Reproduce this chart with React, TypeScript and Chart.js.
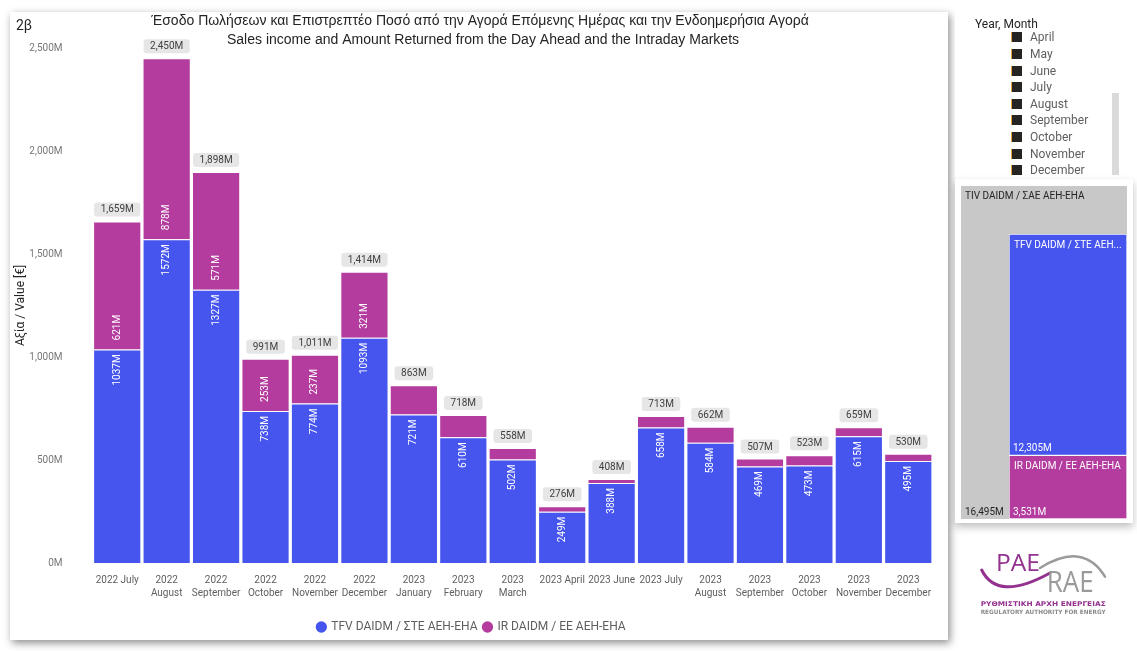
import React, { useEffect, useRef } from "react";
import { Chart, registerables } from "chart.js";

Chart.register(...registerables);

// ---------- data ----------
const categories: string[][] = [
  ["2022 July"],
  ["2022", "August"],
  ["2022", "September"],
  ["2022", "October"],
  ["2022", "November"],
  ["2022", "December"],
  ["2023", "January"],
  ["2023", "February"],
  ["2023", "March"],
  ["2023 April"],
  ["2023 June"],
  ["2023 July"],
  ["2023", "August"],
  ["2023", "September"],
  ["2023", "October"],
  ["2023", "November"],
  ["2023", "December"],
];
const tfvValues = [1037, 1572, 1327, 738, 774, 1093, 721, 610, 502, 249, 388, 658, 584, 469, 473, 615, 495];
const irValues = [621, 878, 571, 253, 237, 321, 142, 108, 56, 27, 20, 55, 78, 38, 50, 44, 35];
const totalValues = [1659, 2450, 1898, 991, 1011, 1414, 863, 718, 558, 276, 408, 713, 662, 507, 523, 659, 530];
const yTickValues = [0, 500, 1000, 1500, 2000, 2500];

const seriesNames = ["TFV DAIDM / ΣΤΕ ΑΕΗ-ΕΗΑ", "IR DAIDM / ΕΕ ΑΕΗ-ΕΗΑ"];
const titleLines = [
  "Έσοδο Πωλήσεων και Επιστρεπτέο Ποσό από την Αγορά Επόμενης Ημέρας και την Ενδοημερήσια Αγορά",
  "Sales income and Amount Returned from the Day Ahead and the Intraday Markets",
];
const pageTag = "2β";
const yAxisTitle = "Αξία / Value [€]";

const treemapParentName = "TIV DAIDM / ΣΑΕ ΑΕΗ-ΕΗΑ";
const treemapParentValue = 16495;
const treemapChildNames = ["TFV DAIDM / ΣΤΕ ΑΕΗ-ΕΗΑ", "IR DAIDM / ΕΕ ΑΕΗ-ΕΗΑ"];
const treemapChildValues = [12305, 3531];

const slicerTitle = "Year, Month";
const slicerMonths = ["April", "May", "June", "July", "August", "September", "October", "November", "December"];

// ---------- styles ----------
const BLUE = "#4655EE";
const PURPLE = "#B33C9E";
const FONT = "Roboto, 'Liberation Sans', sans-serif";

const fmtComma = (v: number) => v.toLocaleString("en-US") + "M";

function roundRect(ctx: CanvasRenderingContext2D, x: number, y: number, w: number, h: number, r: number) {
  ctx.beginPath();
  ctx.moveTo(x + r, y);
  ctx.lineTo(x + w - r, y);
  ctx.quadraticCurveTo(x + w, y, x + w, y + r);
  ctx.lineTo(x + w, y + h - r);
  ctx.quadraticCurveTo(x + w, y + h, x + w - r, y + h);
  ctx.lineTo(x + r, y + h);
  ctx.quadraticCurveTo(x, y + h, x, y + h - r);
  ctx.lineTo(x, y + r);
  ctx.quadraticCurveTo(x, y, x + r, y);
  ctx.closePath();
}

const titlePlugin = {
  id: "titleLines",
  afterDraw(chart: any) {
    const ctx = chart.ctx as CanvasRenderingContext2D;
    ctx.save();
    ctx.font = "14px 'Liberation Sans', Arial, sans-serif";
    ctx.fillStyle = "#252423";
    ctx.textAlign = "center";
    ctx.textBaseline = "alphabetic";
    ctx.fillText(titleLines[0], 470, 12.5);
    ctx.fillText(titleLines[1], 473, 31.5);
    ctx.restore();
  },
};

const barLabelPlugin = {
  id: "barLabels",
  afterDatasetsDraw(chart: any) {
    const ctx = chart.ctx as CanvasRenderingContext2D;
    const m0 = chart.getDatasetMeta(0);
    const m1 = chart.getDatasetMeta(1);
    ctx.save();
    ctx.font = `10px ${FONT}`;
    ctx.textBaseline = "middle";
    m0.data.forEach((bar: any, i: number) => {
      const p = bar.getProps(["x", "y", "base"], true);
      if (p.base - p.y > 40) {
        ctx.save();
        ctx.translate(p.x, p.y + 5);
        ctx.rotate(-Math.PI / 2);
        ctx.textAlign = "right";
        ctx.fillStyle = "#ffffff";
        ctx.fillText(tfvValues[i] + "M", 0, 0);
        ctx.restore();
      }
    });
    m1.data.forEach((bar: any, i: number) => {
      const p = bar.getProps(["x", "y", "base"], true);
      if (p.base - p.y > 40) {
        ctx.save();
        ctx.translate(p.x, p.base - 9);
        ctx.rotate(-Math.PI / 2);
        ctx.textAlign = "left";
        ctx.fillStyle = "#ffffff";
        ctx.fillText(irValues[i] + "M", 0, 0);
        ctx.restore();
      }
      // total label box
      const txt = fmtComma(totalValues[i]);
      const w = ctx.measureText(txt).width + 13;
      const h = 14;
      const bx = p.x - w / 2;
      const by = p.y - 5 - h;
      roundRect(ctx, bx, by, w, h, 3);
      ctx.fillStyle = "#E6E6E6";
      ctx.fill();
      ctx.fillStyle = "#404040";
      ctx.textAlign = "center";
      ctx.fillText(txt, p.x, by + h / 2 + 0.5);
    });
    ctx.restore();
  },
};

function truncate(ctx: CanvasRenderingContext2D, text: string, maxW: number) {
  if (ctx.measureText(text).width <= maxW) return text;
  let t = text;
  while (t.length > 0 && ctx.measureText(t + "...").width > maxW) t = t.slice(0, -1);
  return t + "...";
}

const treemapPlugin = {
  id: "treemapCells",
  beforeDraw(chart: any) {
    const ctx = chart.ctx as CanvasRenderingContext2D;
    ctx.save();
    ctx.fillStyle = "#C8C8C8";
    ctx.fillRect(0, 0, chart.width, chart.height);
    ctx.restore();
  },
  afterDatasetsDraw(chart: any) {
    const ctx = chart.ctx as CanvasRenderingContext2D;
    ctx.save();
    ctx.font = `10px ${FONT}`;
    ctx.textBaseline = "alphabetic";
    ctx.textAlign = "left";
    ctx.fillStyle = "#252423";
    ctx.fillText(treemapParentName, 4, 13);
    ctx.fillText(fmtComma(treemapParentValue), 4, chart.height - 4);
    // datasets: 0 = IR (bottom), 1 = TFV (top)
    const order = [1, 0];
    order.forEach((di) => {
      const bar: any = chart.getDatasetMeta(di).data[0];
      const p = bar.getProps(["x", "y", "base", "width"], true);
      const left = p.x - p.width / 2;
      const childIdx = di === 1 ? 0 : 1;
      ctx.fillStyle = "#ffffff";
      ctx.fillText(truncate(ctx, treemapChildNames[childIdx], p.width - 8), left + 5, p.y + 14);
      ctx.fillText(fmtComma(treemapChildValues[childIdx]), left + 4, p.base - 4);
    });
    ctx.restore();
  },
};

export default function App() {
  const mainRef = useRef<HTMLCanvasElement | null>(null);
  const treeRef = useRef<HTMLCanvasElement | null>(null);

  useEffect(() => {
    document.body.style.margin = "0";
    const main = new Chart(mainRef.current as HTMLCanvasElement, {
      type: "bar",
      data: {
        labels: categories as any,
        datasets: [
          {
            label: seriesNames[0],
            data: tfvValues,
            backgroundColor: BLUE,
            borderColor: "rgba(255,255,255,0.35)",
            borderWidth: 1,
            borderSkipped: "bottom",
            categoryPercentage: 1,
            barPercentage: 0.975,
          },
          {
            label: seriesNames[1],
            data: irValues,
            backgroundColor: PURPLE,
            borderColor: "rgba(255,255,255,0.35)",
            borderWidth: 1,
            borderSkipped: "bottom",
            categoryPercentage: 1,
            barPercentage: 0.975,
          },
        ],
      },
      options: {
        animation: false,
        responsive: false,
        layout: { padding: { top: 34, left: 0, right: 15, bottom: -3 } },
        plugins: {
          tooltip: { enabled: false },
          title: { display: false },
          legend: {
            position: "bottom",
            labels: {
              usePointStyle: true,
              pointStyle: "circle",
              boxWidth: 8,
              boxHeight: 8,
              padding: 6,
              color: "#605E5C",
              font: { size: 12, family: FONT },
              generateLabels: (chart: any) =>
                Chart.defaults.plugins.legend.labels
                  .generateLabels(chart)
                  .map((l: any) => ({ ...l, strokeStyle: l.fillStyle, lineWidth: 0 })),
            },
          },
        },
        scales: {
          x: {
            stacked: true,
            grid: { display: false, drawTicks: false },
            border: { display: false },
            ticks: {
              color: "#605E5C",
              font: { size: 10, family: FONT, lineHeight: 1.3 },
              maxRotation: 0,
              minRotation: 0,
              autoSkip: false,
              padding: 11,
            },
            afterFit: (s: any) => {
              s.height = 52;
            },
          },
          y: {
            stacked: true,
            min: 0,
            max: 2500,
            grid: { display: false, drawTicks: false },
            border: { display: false },
            afterBuildTicks: (s: any) => {
              s.ticks = yTickValues.map((v) => ({ value: v }));
            },
            ticks: {
              color: "#777777",
              font: { size: 10, family: FONT },
              padding: 30,
              callback: (v: any) => fmtComma(Number(v)),
            },
            title: {
              display: true,
              text: yAxisTitle,
              color: "#252423",
              font: { size: 12, family: FONT },
              padding: { top: 4, bottom: 0 },
            },
            afterFit: (s: any) => {
              s.width = 82.5;
            },
          },
        },
      } as any,
      plugins: [titlePlugin, barLabelPlugin],
    });

    const childSum = treemapChildValues[0] + treemapChildValues[1];
    const tree = new Chart(treeRef.current as HTMLCanvasElement, {
      type: "bar",
      data: {
        labels: [treemapParentName],
        datasets: [
          {
            label: treemapChildNames[1],
            data: [treemapChildValues[1]],
            backgroundColor: PURPLE,
            borderColor: "rgba(255,255,255,0.85)",
            borderWidth: 1,
            borderSkipped: false,
            categoryPercentage: 1,
            barPercentage: 1,
          },
          {
            label: treemapChildNames[0],
            data: [treemapChildValues[0]],
            backgroundColor: BLUE,
            borderColor: "rgba(255,255,255,0.85)",
            borderWidth: 1,
            borderSkipped: false,
            categoryPercentage: 1,
            barPercentage: 1,
          },
        ],
      },
      options: {
        animation: false,
        responsive: false,
        layout: { padding: { left: 48, top: 48, right: 0, bottom: 0 } },
        plugins: { legend: { display: false }, tooltip: { enabled: false } },
        scales: {
          x: { display: false, stacked: true },
          y: { display: false, stacked: true, min: 0, max: childSum },
        },
      } as any,
      plugins: [treemapPlugin],
    });

    return () => {
      main.destroy();
      tree.destroy();
    };
  }, []);

  return (
    <div
      style={{
        position: "fixed",
        left: 0,
        top: 0,
        width: 1137,
        height: 651,
        background: "#ffffff",
        overflow: "hidden",
        fontFamily: FONT,
      }}
    >
      {/* main chart panel */}
      <div
        style={{
          position: "absolute",
          left: 10,
          top: 12,
          width: 938,
          height: 628,
          background: "#ffffff",
          boxShadow: "2px 3px 8px rgba(0,0,0,0.45)",
        }}
      >
        <canvas ref={mainRef} width={938} height={628} style={{ display: "block" }} />
        <div
          style={{
            position: "absolute",
            left: 6,
            top: 5,
            fontSize: 14,
            lineHeight: "16px",
            color: "#252423",
          }}
        >
          {pageTag}
        </div>
      </div>

      {/* slicer */}
      <div style={{ position: "absolute", left: 955, top: 12, width: 182, height: 166, background: "#fff" }}>
        <div
          style={{
            position: "absolute",
            left: 20,
            top: 4,
            fontSize: 12,
            lineHeight: "16px",
            color: "#252423",
          }}
        >
          {slicerTitle}
        </div>
        {slicerMonths.map((m, i) => (
          <div
            key={m}
            style={{
              position: "absolute",
              left: 56,
              top: 17.4 + i * 16.6,
              height: 16,
              display: "flex",
              alignItems: "center",
            }}
          >
            <div
              style={{
                width: 10,
                height: 10,
                background: "#252423",
                borderLeft: "1px solid #E8A33D",
                marginRight: 8,
              }}
            />
            <span style={{ fontSize: 12, color: "#605E5C", lineHeight: "16px" }}>{m}</span>
          </div>
        ))}
        <div
          style={{
            position: "absolute",
            left: 157,
            top: 81,
            width: 7,
            height: 82,
            background: "#DADADA",
          }}
        />
      </div>

      {/* treemap panel */}
      <div
        style={{
          position: "absolute",
          left: 955,
          top: 179,
          width: 178,
          height: 344,
          background: "#ffffff",
          boxShadow: "0 4px 8px rgba(0,0,0,0.25)",
        }}
      >
        <canvas
          ref={treeRef}
          width={166}
          height={333}
          style={{ position: "absolute", left: 6, top: 7, display: "block" }}
        />
      </div>

      {/* logo */}
      <svg
        style={{ position: "absolute", left: 970, top: 535 }}
        width={150}
        height={85}
        viewBox="0 0 150 85"
      >
        <path d="M 11.7 35 Q 27.5 67 80 38" stroke="#93328E" strokeWidth={3} fill="none" strokeLinecap="round" />
        <path d="M 70 33 Q 113.5 6 135 41.7" stroke="#9A9A9A" strokeWidth={2.5} fill="none" strokeLinecap="round" />
        <text x={26} y={35.7} fontSize={24} fill="#93328E" fontFamily="'Open Sans', sans-serif" textLength={44} lengthAdjust="spacingAndGlyphs">
          PAE
        </text>
        <text x={76.7} y={57} fontSize={30} fill="#9A9A9A" fontFamily="'Open Sans', sans-serif" textLength={47} lengthAdjust="spacingAndGlyphs">
          RAE
        </text>
        <text x={10.7} y={70.5} fontSize={6.5} fontWeight="bold" fill="#93328E" fontFamily="'DejaVu Sans', sans-serif" textLength={125} lengthAdjust="spacingAndGlyphs">
          ΡΥΘΜΙΣΤΙΚΗ ΑΡΧΗ ΕΝΕΡΓΕΙΑΣ
        </text>
        <text x={10.7} y={78.5} fontSize={6} fontWeight="bold" fill="#8A8A8A" fontFamily="'DejaVu Sans', sans-serif" textLength={125} lengthAdjust="spacingAndGlyphs">
          REGULATORY AUTHORITY FOR ENERGY
        </text>
      </svg>
    </div>
  );
}
